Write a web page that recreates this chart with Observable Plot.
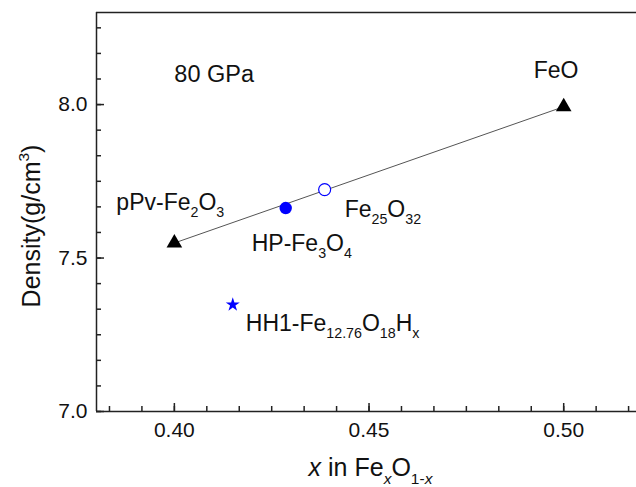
<!DOCTYPE html>
<html>
<head>
<meta charset="utf-8">
<script src="https://cdn.jsdelivr.net/npm/d3@7"></script>
<script src="https://cdn.jsdelivr.net/npm/@observablehq/plot@0.6"></script>
<style>
  html, body { margin: 0; padding: 0; background: #fff; }
</style>
</head>
<body>
<script>
// ---- data ----
// markup: _{..} subscript, ^{..} superscript, ~..~ italic
const compounds = ["pPv-Fe_{2}O_{3}", "HP-Fe_{3}O_{4}", "Fe_{25}O_{32}", "FeO", "HH1-Fe_{12.76}O_{18}H_{x}"];
const xFe = [0.400, 0.4286, 0.4386, 0.500, 0.415];
const density = [7.549, 7.663, 7.723, 7.993, 7.348];
const kinds = ["triangle", "filled", "open", "triangle", "star"];
const pressureNote = ["80 GPa"];
const pressureNoteX = [0.400];
const pressureNoteY = [8.072];
const xMajorTicks = [0.40, 0.45, 0.50];
const yMajorTicks = [7.0, 7.5, 8.0];
const xTitle = "~x~ in Fe_{~x~}O_{1-~x~}";
const yTitle = "Density(g/cm^{3})";

// ---- layout / style ----
const xDomain = [0.38, 0.5187];
const yDomain = [7.0, 8.3];
const xMinorTicks = d3.range(-12, 21).map(k => 0.40 + k * 0.05 / 6).filter(v => v >= xDomain[0] && v <= xDomain[1]);
const yMinorTicks = d3.range(0, 16).map(k => 7.0 + k * 0.5 / 6);
const labelOffsets = {
  "pPv-Fe_{2}O_{3}": [-58, -33],
  "HP-Fe_{3}O_{4}": [-34, 43],
  "Fe_{25}O_{32}": [20, 27],
  "FeO": [-30, -29],
  "HH1-Fe_{12.76}O_{18}H_{x}": [13, 26]
};
const font = "'Liberation Sans', Arial, Helvetica, sans-serif";
const blue = "#0000ff";

const rows = compounds.map((c, i) => ({label: c, x: xFe[i], y: density[i], kind: kinds[i]}));
const notes = pressureNote.map((t, i) => ({label: t, x: pressureNoteX[i], y: pressureNoteY[i]}));
const tri = rows.filter(d => d.kind === "triangle");

const plot = Plot.plot({
  width: 636,
  height: 487,
  marginLeft: 96,
  marginRight: 0,
  marginTop: 12,
  marginBottom: 76,
  x: {domain: xDomain},
  y: {domain: yDomain},
  style: {fontFamily: font, fontSize: "20px", color: "#000", background: "#fff", overflow: "visible"},
  marks: [
    // frame lines
    Plot.ruleY(yDomain, {stroke: "#222", strokeWidth: 1.5}),
    Plot.ruleX([xDomain[0]], {stroke: "#222", strokeWidth: 1.5}),
    // ticks (inward)
    Plot.axisX(xMajorTicks, {tickSize: -8, fill: "none", stroke: "#222", strokeWidth: 1.5}),
    Plot.axisX(xMinorTicks, {tickSize: -5, fill: "none", stroke: "#222", strokeWidth: 1.5}),
    Plot.axisY(yMajorTicks, {tickSize: -8, fill: "none", stroke: "#222", strokeWidth: 1.5}),
    Plot.axisY(yMinorTicks, {tickSize: -5, fill: "none", stroke: "#222", strokeWidth: 1.5}),
    // tick labels
    Plot.axisX(xMajorTicks, {tickSize: 0, tickPadding: 11, tickFormat: d3.format(".2f"), label: null, fontSize: 21, fill: "#111"}),
    Plot.axisY(yMajorTicks, {tickSize: 0, tickPadding: 9, tickFormat: d3.format(".1f"), label: null, fontSize: 21, fill: "#111"}),
    // axis titles
    Plot.text([xTitle], {frameAnchor: "bottom", dy: 64, dx: 4, lineAnchor: "bottom", textAnchor: "middle", fontSize: 25, fill: "#111"}),
    Plot.text([yTitle], {frameAnchor: "left", rotate: -90, dx: -57, dy: 14, lineAnchor: "bottom", textAnchor: "middle", fontSize: 25, fill: "#111"}),
    // connecting line
    Plot.line(tri, {x: "x", y: "y", stroke: "#555", strokeWidth: 1}),
    // points
    Plot.dot(rows.filter(d => d.kind === "triangle"), {x: "x", y: "y", symbol: "triangle", r: 5.8, fill: "#000"}),
    Plot.dot(rows.filter(d => d.kind === "filled"), {x: "x", y: "y", symbol: "circle", r: 6.2, fill: blue}),
    Plot.dot(rows.filter(d => d.kind === "open"), {x: "x", y: "y", symbol: "circle", r: 6, fill: "#fff", stroke: blue, strokeWidth: 1.2}),
    Plot.dot(rows.filter(d => d.kind === "star"), {x: "x", y: "y", symbol: "star", r: 4.4, fill: blue}),
    // labels
    ...rows.map(r => Plot.text([r], {x: "x", y: "y", text: "label", dx: labelOffsets[r.label][0], dy: labelOffsets[r.label][1], textAnchor: "start", lineAnchor: "bottom", fontSize: 23, fill: "#111"})),
    Plot.text(notes, {x: "x", y: "y", text: "label", textAnchor: "start", lineAnchor: "bottom", fontSize: 23.5, fill: "#111"})
  ]
});

document.body.append(plot);

// ---- turn markup into tspans (sub/superscripts, italics) ----
function parseRich(s) {
  const runs = [];
  let mode = "normal", italic = false, buf = "";
  const push = () => { if (buf) runs.push({text: buf, mode, italic}); buf = ""; };
  for (let i = 0; i < s.length; i++) {
    const c = s[i];
    if ((c === "_" || c === "^") && s[i + 1] === "{") { push(); mode = c === "_" ? "sub" : "sup"; i++; }
    else if (c === "}" && mode !== "normal") { push(); mode = "normal"; }
    else if (c === "~") { push(); italic = !italic; }
    else buf += c;
  }
  push();
  return runs;
}
plot.querySelectorAll("text").forEach(t => {
  const s = t.textContent;
  if (!/[_^~]/.test(s)) return;
  const base = parseFloat(getComputedStyle(t).fontSize) || 20;
  const runs = parseRich(s);
  t.textContent = "";
  let cur = 0;
  for (const r of runs) {
    const ts = document.createElementNS("http://www.w3.org/2000/svg", "tspan");
    const target = r.mode === "sub" ? 0.32 * base : r.mode === "sup" ? -0.42 * base : 0;
    if (target !== cur) ts.setAttribute("dy", (target - cur).toFixed(2));
    cur = target;
    if (r.mode !== "normal") ts.setAttribute("font-size", (0.62 * base).toFixed(2));
    if (r.italic) ts.setAttribute("font-style", "italic");
    ts.textContent = r.text;
    t.appendChild(ts);
  }
});
</script>
</body>
</html>
